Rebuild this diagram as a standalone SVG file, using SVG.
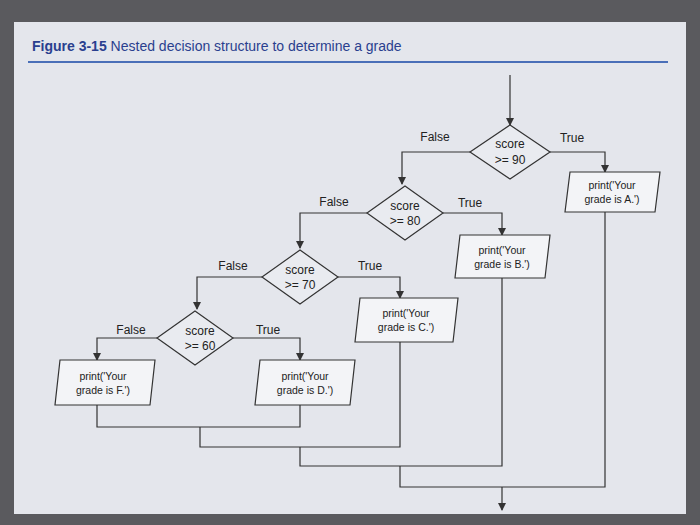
<svg xmlns="http://www.w3.org/2000/svg" width="700" height="525" viewBox="0 0 700 525">
<style>
.d{fill:#e9ebf0;stroke:#333;stroke-width:1.2}
.p{fill:#f3f4f7;stroke:#333;stroke-width:1.2}
.t{font-family:"Liberation Sans",Arial,sans-serif;font-size:12px;fill:#222;text-anchor:middle}
.s{font-family:"Liberation Sans",Arial,sans-serif;font-size:10.5px;fill:#222;text-anchor:middle}
.l{fill:none;stroke:#333;stroke-width:1.2}
</style>
<defs><marker id="a" markerWidth="8" markerHeight="8" refX="7" refY="4" orient="auto" markerUnits="userSpaceOnUse"><path d="M0,0L8,4L0,8z" fill="#333"/></marker></defs>
<rect width="700" height="525" fill="#5a5a5e"/>
<rect x="14" y="22" width="672" height="492" fill="#e4e6ec"/>
<text x="32" y="51" style="font-family:'Liberation Sans',Arial,sans-serif;font-size:14px;fill:#2a3f8f"><tspan font-weight="bold">Figure 3-15</tspan>  Nested decision structure to determine a grade</text>
<line x1="28" y1="62" x2="668" y2="62" stroke="#4a6fb8" stroke-width="2"/>
<g id="connectors">
<path class="l" d="M510,75V125" marker-end="url(#a)"/>
<path class="l" d="M470,152H402V184" marker-end="url(#a)"/>
<path class="l" d="M550,152H605V172" marker-end="url(#a)"/>
<path class="l" d="M443,213H502V235" marker-end="url(#a)"/>
<path class="l" d="M367,213H300V248" marker-end="url(#a)"/>
<path class="l" d="M338,277H400V298" marker-end="url(#a)"/>
<path class="l" d="M262,277H197V309" marker-end="url(#a)"/>
<path class="l" d="M233,338H300V360" marker-end="url(#a)"/>
<path class="l" d="M157,338H97V360" marker-end="url(#a)"/>
<path class="l" d="M97,405V427H300V405"/>
<path class="l" d="M200,427V447H400V342"/>
<path class="l" d="M300,447V466H502V278"/>
<path class="l" d="M400,466V487H605V212"/>
<path class="l" d="M502,487V510" marker-end="url(#a)"/>
</g>
<g id="d90"><polygon class="d" points="510,125 550,152 510,179 470,152"/><text class="t" x="510" y="148">score</text><text class="t" x="510" y="164">&gt;= 90</text><text class="t" x="435" y="141">False</text><text class="t" x="572" y="142">True</text></g>
<g id="d80"><polygon class="d" points="405,186 443,213 405,240 367,213"/><text class="t" x="405" y="210">score</text><text class="t" x="405" y="225">&gt;= 80</text><text class="t" x="334" y="206">False</text><text class="t" x="470" y="207">True</text></g>
<g id="d70"><polygon class="d" points="300,250 338,277 300,304 262,277"/><text class="t" x="300" y="274">score</text><text class="t" x="300" y="289">&gt;= 70</text><text class="t" x="233" y="270">False</text><text class="t" x="370" y="270">True</text></g>
<g id="d60"><polygon class="d" points="195,311 233,338 195,365 157,338"/><text class="t" x="200" y="335">score</text><text class="t" x="200" y="350">&gt;= 60</text><text class="t" x="131" y="334">False</text><text class="t" x="268" y="334">True</text></g>
<g id="pA"><polygon class="p" points="570,172 660,172 655,212 565,212"/><text class="s" x="612" y="189">print('Your</text><text class="s" x="612" y="203">grade is A.')</text></g>
<g id="pB"><polygon class="p" points="460,235 550,235 545,278 455,278"/><text class="s" x="502" y="254">print('Your</text><text class="s" x="502" y="268">grade is B.')</text></g>
<g id="pC"><polygon class="p" points="360,298 458,298 453,342 355,342"/><text class="s" x="406" y="317">print('Your</text><text class="s" x="406" y="331">grade is C.')</text></g>
<g id="pD"><polygon class="p" points="260,360 355,360 350,405 255,405"/><text class="s" x="305" y="380">print('Your</text><text class="s" x="305" y="394">grade is D.')</text></g>
<g id="pF"><polygon class="p" points="60,360 155,360 150,405 55,405"/><text class="s" x="103" y="380">print('Your</text><text class="s" x="103" y="394">grade is F.')</text></g>
</svg>
